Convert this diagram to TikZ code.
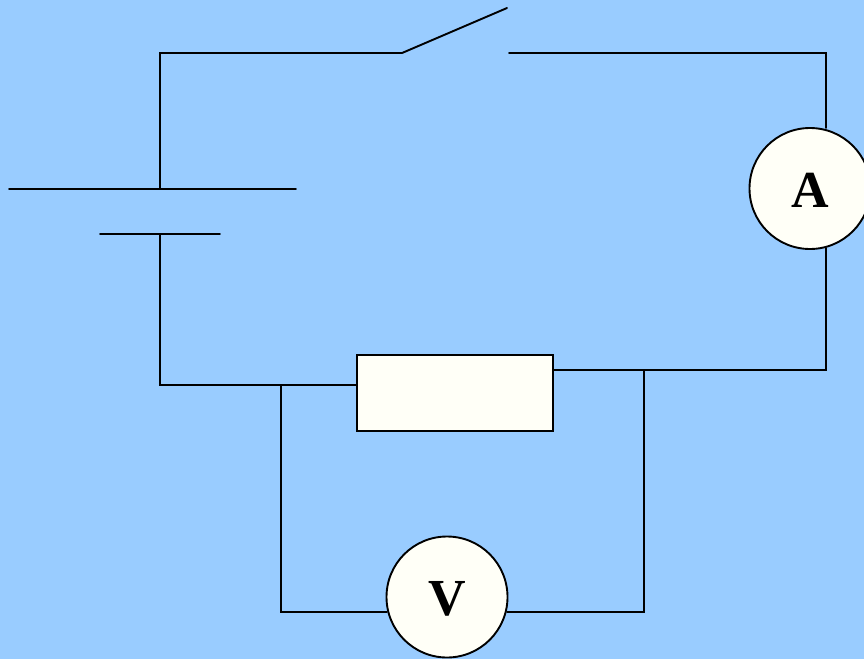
\documentclass[tikz,border=0pt]{standalone}
\usepackage{fontspec}
\setmainfont{Liberation Serif}
\definecolor{bgblue}{RGB}{153,204,255}
\definecolor{cream}{RGB}{255,255,247}
\tikzset{x=1pt,y=-1pt,
 wire/.style={line width=1.9pt,line cap=round,line join=miter,draw=black},
 meter/.style={circle,draw=black,line width=1.9pt,fill=cream,minimum size=121pt,inner sep=0pt},
 meterlabel/.style={inner sep=0pt,font=\bfseries\fontsize{52}{52}\selectfont},
 loadbox/.style={rectangle,draw=black,line width=1.9pt,fill=cream,minimum width=196pt,minimum height=76pt,inner sep=0pt}}
\begin{document}
\begin{tikzpicture}
\useasboundingbox (0,0) rectangle (864,659);
\fill[bgblue] (0,0) rectangle (864,659);
\coordinate (swL) at (402,53);
\coordinate (swT) at (507,8);
\coordinate (swR) at (509,53);
\coordinate (tl) at (160,53);
\coordinate (tr) at (826,53);
\coordinate (br) at (826,370);
\coordinate (batL) at (9,189);
\coordinate (batR) at (296,189);
\coordinate (batT) at (160,189);
\coordinate (negL) at (100,234);
\coordinate (negR) at (220,234);
\coordinate (negM) at (160,234);
\coordinate (bl) at (160,385);
\coordinate (j1) at (281,385);
\coordinate (j2) at (644,370);
\coordinate (vl) at (281,612);
\coordinate (vr) at (644,612);
\node[loadbox] (R) at (455,393) {};
\node[meter] (A) at (810,188.5) {};
\node[meter] (V) at (447,597) {};
\node[meterlabel] (Atext) at (810,190) {A};
\node[meterlabel] (Vtext) at (447,599) {V};
\coordinate (Rl) at (R.west |- bl);
\coordinate (Rr) at (R.east |- br);
\coordinate (Vl) at (387,612);
\coordinate (Vr) at (507,612);
\coordinate (At) at (826,128);
\coordinate (Ab) at (826,248);
\draw[wire] (batT) -- (tl) -- (swL) -- (swT);
\draw[wire] (swR) -- (tr) -- (At);
\draw[wire] (Ab) -- (br) -- (Rr);
\draw[wire] (batL) -- (batR);
\draw[wire] (negL) -- (negR);
\draw[wire] (negM) -- (bl) -- (Rl);
\draw[wire] (j1) -- (vl) -- (Vl);
\draw[wire] (j2) -- (vr) -- (Vr);
\end{tikzpicture}
\end{document}
